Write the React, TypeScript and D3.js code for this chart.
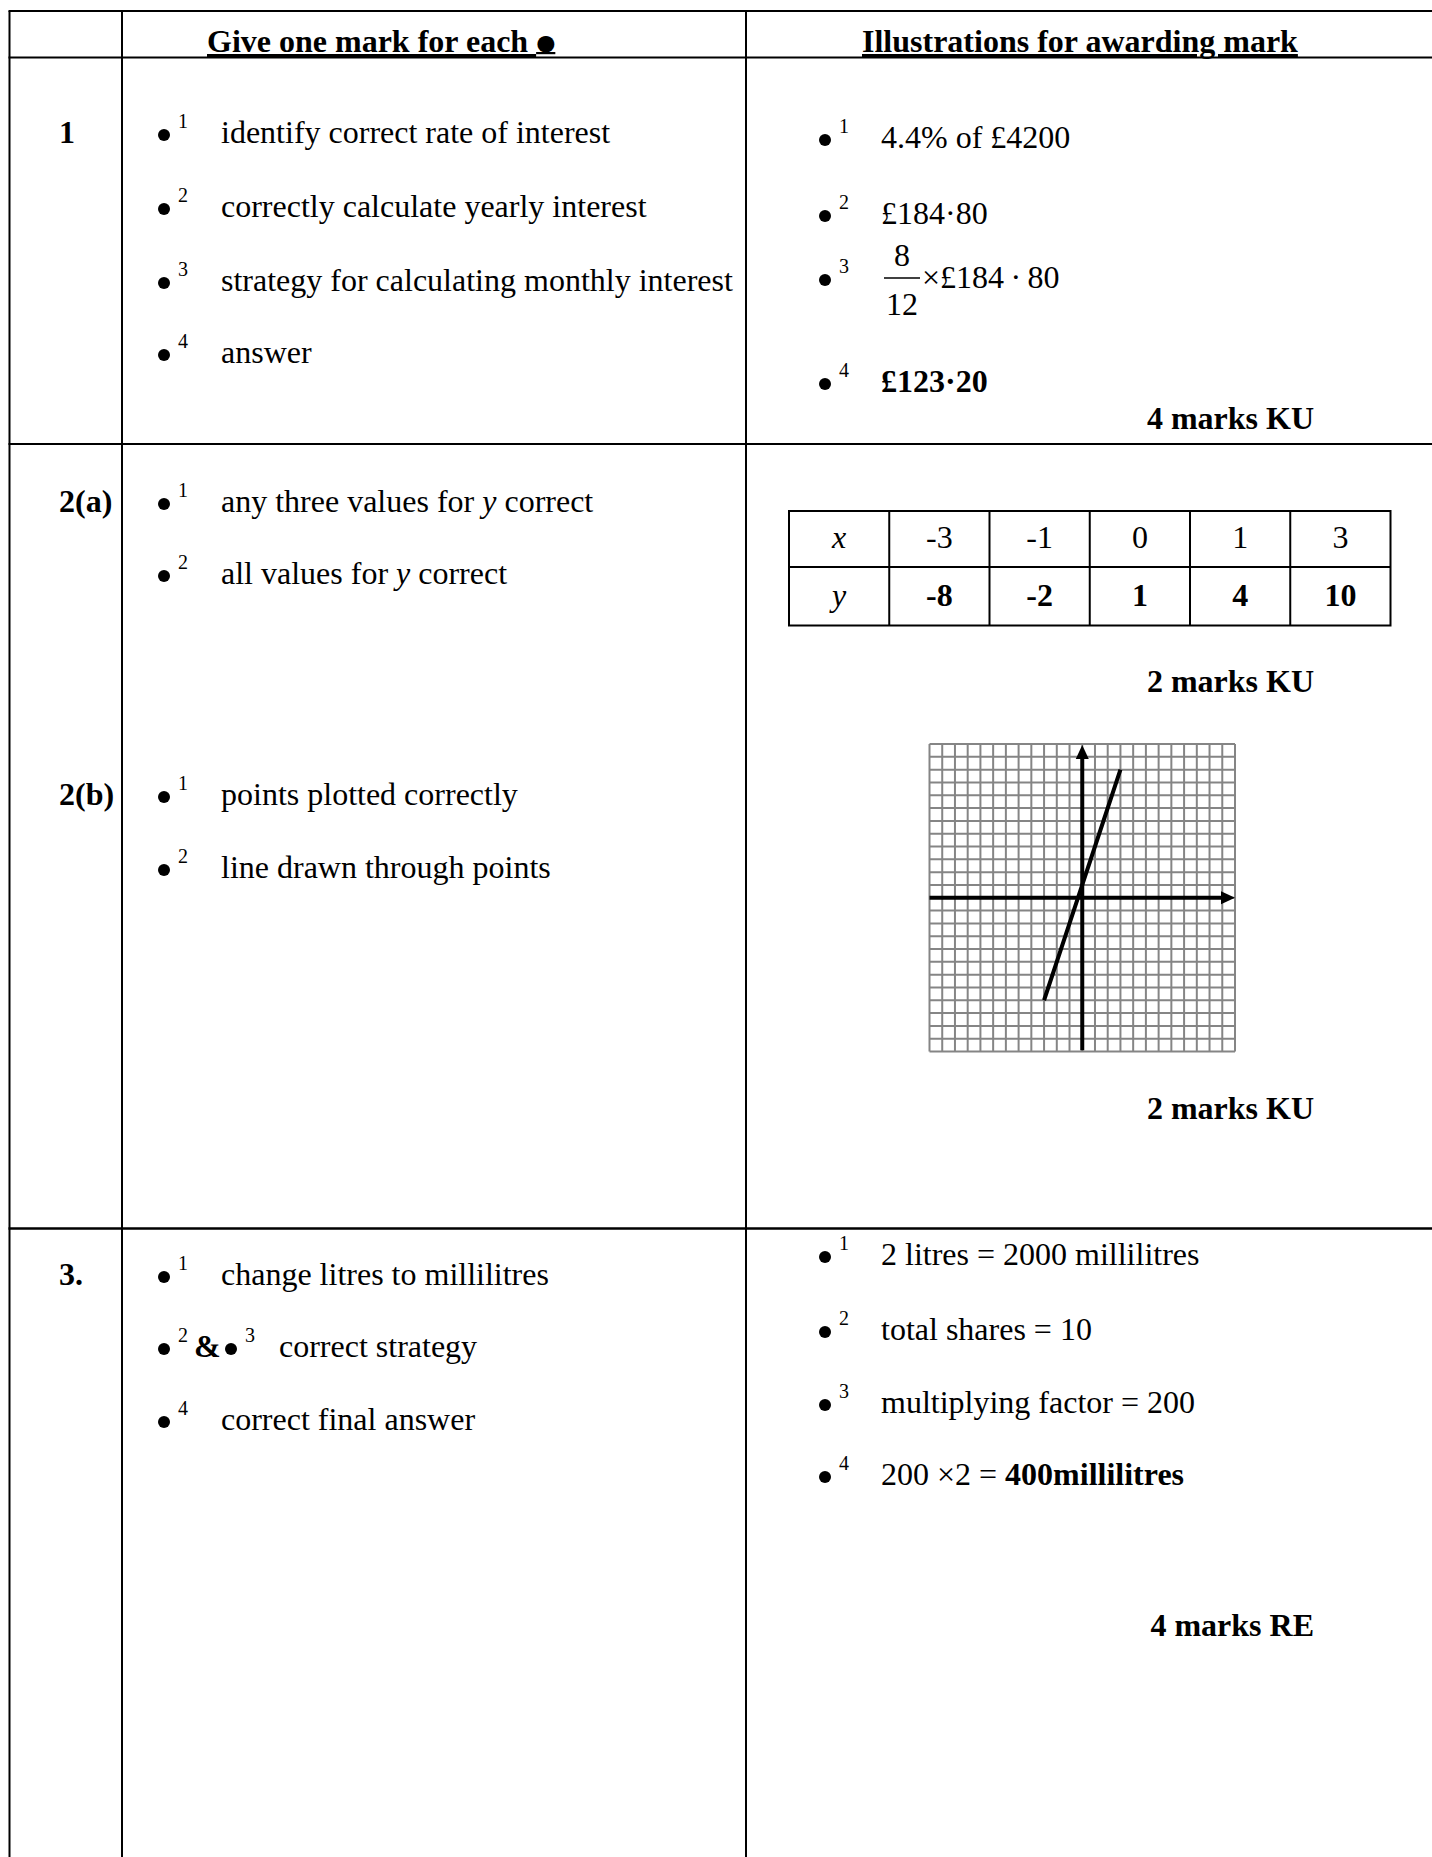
import React from "react";
import * as d3 from "d3";

// ---- data ----
type Seg = { t: string; b?: boolean; i?: boolean };

const headers = ["Give one mark for each ", "Illustrations for awarding mark"];
const rowLabels = ["1", "2(a)", "2(b)", "3."];

const q1Criteria: Seg[][] = [
  [{ t: "identify correct rate of interest" }],
  [{ t: "correctly calculate yearly interest" }],
  [{ t: "strategy for calculating monthly interest" }],
  [{ t: "answer" }],
];
const q1Illus: Seg[][] = [
  [{ t: "4.4% of £4200" }],
  [{ t: "£184·80" }],
  [], // fraction, drawn separately
  [{ t: "£123·20", b: true }],
];
const q1Fraction = { num: "8", den: "12", rest: "×£184\u2009·\u200980" };

const q2aCriteria: Seg[][] = [
  [{ t: "any three values for " }, { t: "y", i: true }, { t: " correct" }],
  [{ t: "all values for " }, { t: "y", i: true }, { t: " correct" }],
];
const q2bCriteria: Seg[][] = [
  [{ t: "points plotted correctly" }],
  [{ t: "line drawn through points" }],
];

const tableX = [-3, -1, 0, 1, 3];
const tableY = [-8, -2, 1, 4, 10];

const q3Criteria: Seg[][] = [
  [{ t: "change litres to millilitres" }],
  [], // "•2 & •3 correct strategy", drawn separately
  [{ t: "correct final answer" }],
];
const q3Illus: Seg[][] = [
  [{ t: "2 litres = 2000 millilitres" }],
  [{ t: "total shares = 10" }],
  [{ t: "multiplying factor = 200" }],
  [{ t: "200 ×2 = " }, { t: "400millilitres", b: true }],
];

const marks = ["4 marks KU", "2 marks KU", "2 marks KU", "4 marks RE"];

// ---- layout ----
const W = 1432;
const H = 1857;
const FONT = "'Liberation Serif', 'Times New Roman', serif";
const FS = 32;
const colX = [9.5, 122, 746];
const rowLines = [11, 57.5, 444, 1228.5];
const labelX = 59;
const left = { bullet: 164, sup: 178, text: 221 };
const right = { bullet: 825, sup: 839, text: 881 };

const q1LeftBase = [143, 217, 291, 363];
const q1RightBase = [148, 224, 288, 392];
const q2aBase = [512, 584];
const q2bBase = [805, 878];
const q3LeftBase = [1285, 1357, 1430];
const q3RightBase = [1265, 1340, 1413, 1485];
const marksBase = [429, 692, 1119, 1636];
const marksRight = 1314;

function Rich({ x, y, segs, anchor }: { x: number; y: number; segs: Seg[]; anchor?: string }) {
  return (
    <text x={x} y={y} fontSize={FS} textAnchor={anchor} style={{ whiteSpace: "pre" }}>
      {segs.map((s, k) => (
        <tspan key={k} fontWeight={s.b ? "bold" : undefined} fontStyle={s.i ? "italic" : undefined}>
          {s.t}
        </tspan>
      ))}
    </text>
  );
}

function Bullet({ cx, supX, y, n }: { cx: number; supX: number; y: number; n: number }) {
  return (
    <g>
      <circle cx={cx} cy={y - 8} r={6} fill="#000" />
      <text x={supX} y={y - 15} fontSize={20}>
        {n}
      </text>
    </g>
  );
}

function Item({ pos, y, n, segs }: { pos: typeof left; y: number; n: number; segs: Seg[] }) {
  return (
    <g>
      <Bullet cx={pos.bullet} supX={pos.sup} y={y} n={n} />
      <Rich x={pos.text} y={y} segs={segs} />
    </g>
  );
}

function ValueTable() {
  const x0 = 789;
  const cellW = 100.25;
  const rowTop = [511, 567];
  const rowH = 57.5;
  const cols = d3.range(tableX.length + 1);
  const rows: { head: string; vals: number[]; bold: boolean; base: number }[] = [
    { head: "x", vals: tableX, bold: false, base: 548 },
    { head: "y", vals: tableY, bold: true, base: 606 },
  ];
  return (
    <g>
      <rect x={x0} y={rowTop[0]} width={cellW * cols.length} height={rowH * 2 - 0.5} fill="none" stroke="#000" strokeWidth={2} />
      <line x1={x0} x2={x0 + cellW * cols.length} y1={rowTop[1]} y2={rowTop[1]} stroke="#000" strokeWidth={2} />
      {cols.slice(1).map((c) => (
        <line key={c} x1={x0 + c * cellW} x2={x0 + c * cellW} y1={rowTop[0]} y2={rowTop[0] + rowH * 2 - 0.5} stroke="#000" strokeWidth={2} />
      ))}
      {rows.map((r) => (
        <g key={r.head}>
          <text x={x0 + cellW / 2} y={r.base} fontSize={FS} fontStyle="italic" textAnchor="middle">
            {r.head}
          </text>
          {r.vals.map((v, k) => (
            <text key={k} x={x0 + (k + 1.5) * cellW} y={r.base} fontSize={FS} textAnchor="middle" fontWeight={r.bold ? "bold" : undefined}>
              {String(v)}
            </text>
          ))}
        </g>
      ))}
    </g>
  );
}

function Graph() {
  const xs = d3.scaleLinear().domain([-12, 12]).range([929.5, 1235]);
  const ys = d3.scaleLinear().domain([-12, 12]).range([1051.5, 744]);
  const ticks = d3.range(-12, 13);
  const line = d3.line<[number, number]>()
    .x((d) => xs(d[0]))
    .y((d) => ys(d[1]));
  const pts: [number, number][] = tableX.map((x, k) => [x, tableY[k]]);
  return (
    <g>
      {ticks.map((t) => (
        <line key={"v" + t} x1={xs(t)} x2={xs(t)} y1={ys(-12)} y2={ys(12)} stroke="#858585" strokeWidth={2} />
      ))}
      {ticks.map((t) => (
        <line key={"h" + t} x1={xs(-12)} x2={xs(12)} y1={ys(t)} y2={ys(t)} stroke="#858585" strokeWidth={2} />
      ))}
      {/* axes */}
      <line x1={xs(0)} x2={xs(0)} y1={ys(-11.9)} y2={ys(11.3)} stroke="#000" strokeWidth={4} />
      <line x1={xs(-12)} x2={xs(11.3)} y1={ys(0)} y2={ys(0)} stroke="#000" strokeWidth={4} />
      <path d={`M${xs(0)},${ys(12) + 1} l-6.5,14 l13,0 z`} fill="#000" />
      <path d={`M${xs(12)},${ys(0)} l-14,-6.5 l0,13 z`} fill="#000" />
      <path d={line(pts) || ""} fill="none" stroke="#000" strokeWidth={4} />
    </g>
  );
}

export default function App() {
  return (
    <svg
      width={W}
      height={H}
      style={{ position: "absolute", left: 0, top: 0, display: "block" }}
      fontFamily={FONT}
    >
      <rect width={W} height={H} fill="#fff" />

      {/* table rules */}
      {rowLines.map((y, k) => (
        <line key={"r" + k} x1={colX[0] - 1} x2={W} y1={y} y2={y} stroke="#000" strokeWidth={k === 3 ? 2.6 : 2.2} />
      ))}
      {colX.map((x, k) => (
        <line key={"c" + k} x1={x} x2={x} y1={rowLines[0]} y2={H} stroke="#000" strokeWidth={2} />
      ))}

      {/* headers */}
      <text x={207} y={52} fontSize={FS} fontWeight="bold" style={{ whiteSpace: "pre", textDecoration: "underline" }}>
        {headers[0]}
        <tspan fontFamily="'DejaVu Sans'" fontSize={22} dy={-2}>●</tspan>
      </text>
      <text x={862} y={52} fontSize={FS} fontWeight="bold" style={{ textDecoration: "underline" }}>
        {headers[1]}
      </text>

      {/* row labels */}
      {[q1LeftBase[0], q2aBase[0], q2bBase[0], q3LeftBase[0]].map((y, k) => (
        <text key={"l" + k} x={labelX} y={y} fontSize={FS} fontWeight="bold">
          {rowLabels[k]}
        </text>
      ))}

      {/* question 1 */}
      {q1Criteria.map((s, k) => (
        <Item key={"q1l" + k} pos={left} y={q1LeftBase[k]} n={k + 1} segs={s} />
      ))}
      {q1Illus.map((s, k) => (
        <Item key={"q1r" + k} pos={right} y={q1RightBase[k]} n={k + 1} segs={s} />
      ))}
      <text x={902} y={266} fontSize={FS} textAnchor="middle">{q1Fraction.num}</text>
      <line x1={884} x2={920} y1={278} y2={278} stroke="#000" strokeWidth={1.5} />
      <text x={902} y={315} fontSize={FS} textAnchor="middle">{q1Fraction.den}</text>
      <text x={922} y={q1RightBase[2]} fontSize={FS} style={{ whiteSpace: "pre" }}>{q1Fraction.rest}</text>

      {/* question 2 */}
      {q2aCriteria.map((s, k) => (
        <Item key={"q2a" + k} pos={left} y={q2aBase[k]} n={k + 1} segs={s} />
      ))}
      {q2bCriteria.map((s, k) => (
        <Item key={"q2b" + k} pos={left} y={q2bBase[k]} n={k + 1} segs={s} />
      ))}
      <ValueTable />
      <Graph />

      {/* question 3 */}
      {q3Criteria.map((s, k) =>
        k === 1 ? (
          <g key={"q3l" + k}>
            <Bullet cx={left.bullet} supX={left.sup} y={q3LeftBase[k]} n={2} />
            <text x={194} y={q3LeftBase[k]} fontSize={FS} fontWeight="bold">&amp;</text>
            <Bullet cx={231} supX={245} y={q3LeftBase[k]} n={3} />
            <Rich x={279} y={q3LeftBase[k]} segs={[{ t: "correct strategy" }]} />
          </g>
        ) : (
          <Item key={"q3l" + k} pos={left} y={q3LeftBase[k]} n={k === 0 ? 1 : 4} segs={s} />
        )
      )}
      {q3Illus.map((s, k) => (
        <Item key={"q3r" + k} pos={right} y={q3RightBase[k]} n={k + 1} segs={s} />
      ))}

      {/* marks */}
      {marks.map((m, k) => (
        <text key={"m" + k} x={marksRight} y={marksBase[k]} fontSize={FS} fontWeight="bold" textAnchor="end">
          {m}
        </text>
      ))}
    </svg>
  );
}
